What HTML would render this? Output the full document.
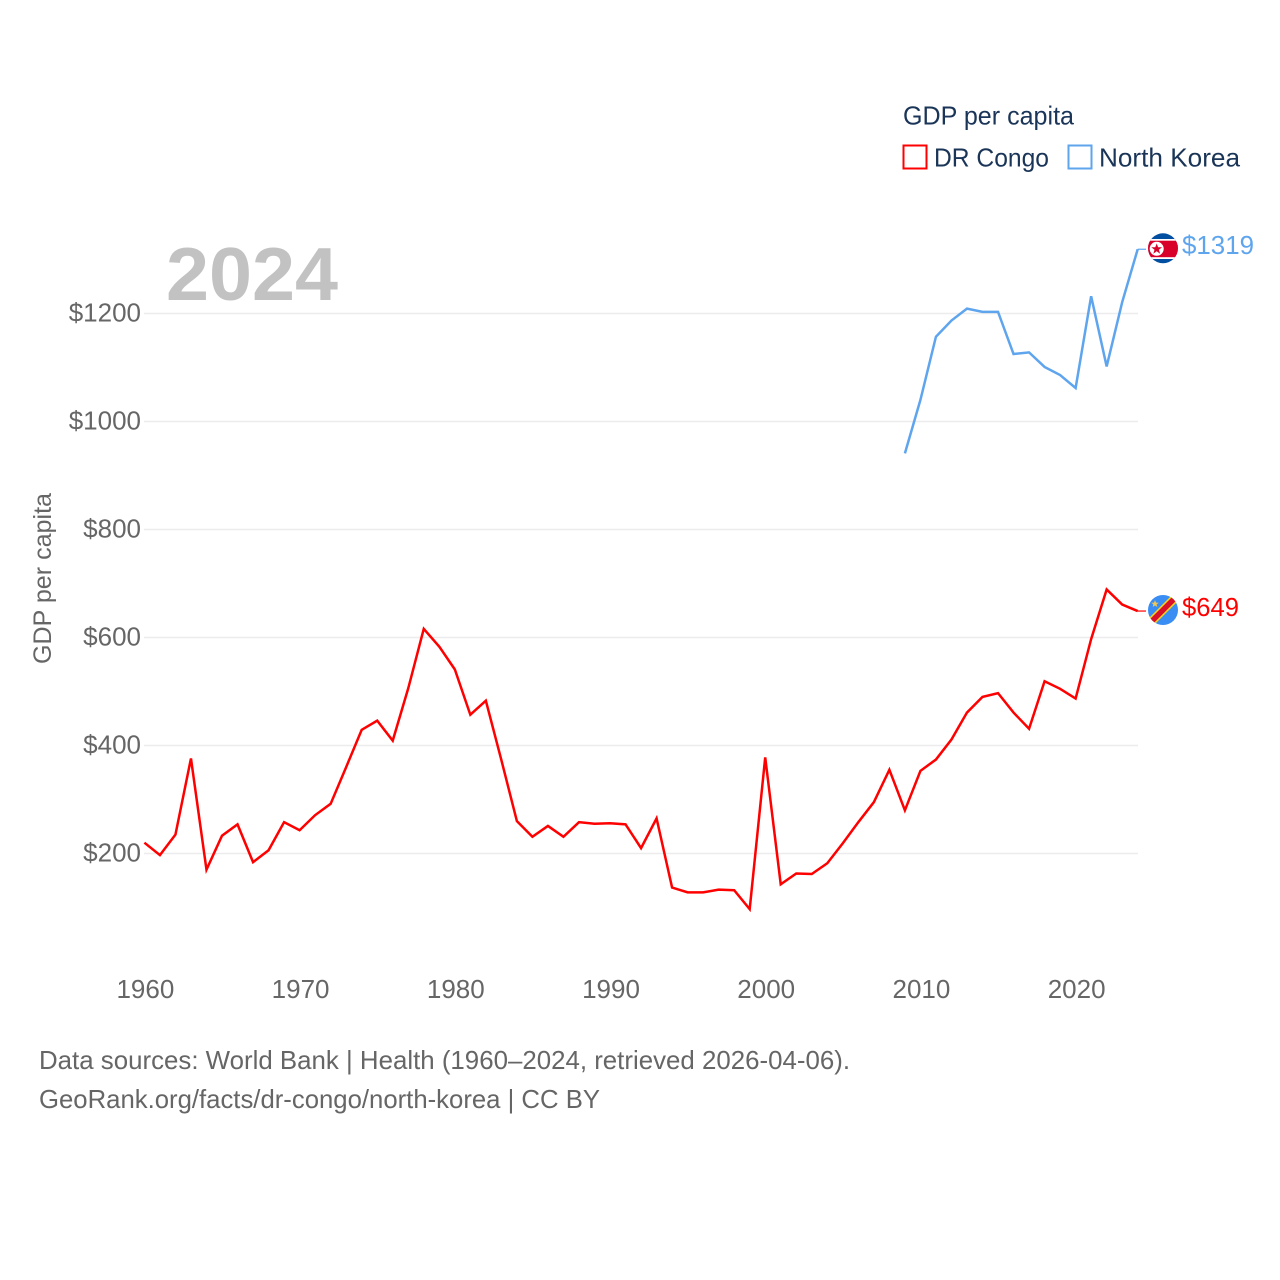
<!DOCTYPE html>
<html lang="en">
<head>
<meta charset="utf-8">
<title>GDP per capita: DR Congo and North Korea</title>
<style>
html,body{margin:0;padding:0;background:#fff;}
svg{display:block;font-family:"Liberation Sans",sans-serif;}
</style>
</head>
<body>
<svg id="chart" xmlns="http://www.w3.org/2000/svg" width="1280" height="1280" viewBox="0 0 1280 1280">
  <rect width="1280" height="1280" fill="#fff"/>
  <g id="grid"></g>
  <g id="yticks"></g>
  <g id="xticks"></g>
  <text x="166" y="300" font-size="75" font-weight="700" fill="#c2c2c2" textLength="172" lengthAdjust="spacingAndGlyphs">2024</text>
  <text transform="translate(51,664) rotate(-90)" font-size="25" fill="#666" textLength="171" lengthAdjust="spacingAndGlyphs">GDP per capita</text>
  <g id="series"></g>

  <g>
    <text x="903" y="124.500" font-size="26" fill="#1a3557" textLength="171" lengthAdjust="spacingAndGlyphs">GDP per capita</text>
    <rect x="903.5" y="145.5" width="23" height="23" fill="none" stroke="#ff0000" stroke-width="2"/>
    <text x="934" y="166.500" font-size="26" fill="#1a3557" textLength="115" lengthAdjust="spacingAndGlyphs">DR Congo</text>
    <rect x="1068.5" y="145.5" width="23" height="23" fill="none" stroke="#5ea5ee" stroke-width="2"/>
    <text x="1099" y="166.500" font-size="26" fill="#1a3557" textLength="141" lengthAdjust="spacingAndGlyphs">North Korea</text>
  </g>

  <defs>
    <clipPath id="clip-nk"><circle cx="1163" cy="248.3" r="15"/></clipPath>
    <clipPath id="clip-cd"><circle cx="1163" cy="610" r="15"/></clipPath>
  </defs>
  <g clip-path="url(#clip-nk)">
    <rect x="1148" y="233" width="30" height="31" fill="#024fa2"/>
    <rect x="1148" y="239" width="30" height="20" fill="#fff"/>
    <rect x="1148" y="240.700" width="30" height="16.500" fill="#d8002b"/>
    <circle cx="1156.700" cy="248.800" r="7" fill="#fff"/>
    <polygon points="1156.700,243.500 1158.100,247.300 1162.100,247.300 1158.900,249.800 1160.100,253.700 1156.700,251.300 1153.300,253.700 1154.500,249.800 1151.300,247.300 1155.300,247.300" fill="#d8002b"/>
  </g>
  <g clip-path="url(#clip-cd)">
    <rect x="1148" y="595" width="30" height="30" fill="#3a8df2"/>
    <line x1="1146" y1="627" x2="1180" y2="593" stroke="#f7d618" stroke-width="8.500"/>
    <line x1="1146" y1="627" x2="1180" y2="593" stroke="#d8102a" stroke-width="5.500"/>
    <polygon points="1155,600 1156,602.600 1158.800,602.700 1156.600,604.400 1157.400,607 1155,605.500 1152.600,607 1153.400,604.400 1151.200,602.700 1154,602.600" fill="#f0c75a"/>
  </g>
  <text x="1182" y="254" font-size="26" fill="#5ea5ee" textLength="72" lengthAdjust="spacingAndGlyphs">$1319</text>
  <text x="1182" y="616" font-size="26" fill="#ff0000" textLength="57" lengthAdjust="spacingAndGlyphs">$649</text>

  <text x="39" y="1069" font-size="26" fill="#666" textLength="811" lengthAdjust="spacingAndGlyphs">Data sources: World Bank | Health (1960–2024, retrieved 2026-04-06).</text>
  <text x="39" y="1108" font-size="26" fill="#666" textLength="561" lengthAdjust="spacingAndGlyphs">GeoRank.org/facts/dr-congo/north-korea | CC BY</text>
</svg>
<script>
const drCongoStartYear = 1960;
const drCongoValues = [220,197,235,376,170,233,254,184,206,258,243,271,292,360,429,446,409,506,616,583,541,457,483,373,260,231,251,231,258,255,256,254,210,265,137,128,128,133,132,97,378,143,163,162,182,219,258,295,355,280,353,374,411,461,490,497,461,431,519,505,487,597,689,661,649];
const northKoreaStartYear = 2009;
const northKoreaValues = [941,1040,1157,1187,1209,1203,1203,1125,1128,1101,1086,1062,1232,1102,1221,1319];
const yTicks = [200,400,600,800,1000,1200];
const xTicks = [1960,1970,1980,1990,2000,2010,2020];

const NS = 'http://www.w3.org/2000/svg';
const xScale = function (year) { return 144.4 + (year - 1960) * (1137.7 - 144.4) / 64; };
const yScale = function (value) { return 961.5 - value * 0.54; };

function make(parent, tag, attrs, content) {
  const el = document.createElementNS(NS, tag);
  Object.keys(attrs).forEach(function (k) { el.setAttribute(k, attrs[k]); });
  if (content !== undefined) el.textContent = content;
  parent.appendChild(el);
  return el;
}

const gridG = document.getElementById('grid');
const yG = document.getElementById('yticks');
yTicks.forEach(function (t) {
  const line = make(gridG, 'line', {x1: 144, x2: 1138, y1: yScale(t), y2: yScale(t), stroke: '#ececec', 'stroke-width': 1.5});
  
  
  const label = make(yG, 'text', {x: 141, y: yScale(t) + 8, 'text-anchor': 'end', 'font-size': 26, fill: '#666'}, '$' + t);
  
  
});

const xG = document.getElementById('xticks');
xTicks.forEach(function (t) {
  const label = make(xG, 'text', {x: xScale(t) + 1, y: 998, 'text-anchor': 'middle', 'font-size': 26, fill: '#666'}, String(t));
  
  
});

function pathFor(startYear, values) {
  return values.map(function (v, i) {
    return (i ? 'L' : 'M') + xScale(startYear + i).toFixed(2) + ' ' + yScale(v).toFixed(2);
  }).join(' ');
}

const seriesG = document.getElementById('series');
const lastDr = drCongoValues[drCongoValues.length - 1];
const lastNk = northKoreaValues[northKoreaValues.length - 1];

const drLine = make(seriesG, 'path', {d: pathFor(drCongoStartYear, drCongoValues), fill: 'none', stroke: '#ff0000', 'stroke-width': 2.5, 'stroke-linejoin': 'miter'});



const nkLine = make(seriesG, 'path', {d: pathFor(northKoreaStartYear, northKoreaValues), fill: 'none', stroke: '#5ea5ee', 'stroke-width': 2.5, 'stroke-linejoin': 'miter'});



const drLead = make(seriesG, 'line', {x1: xScale(2024), x2: 1146, y1: yScale(lastDr), y2: yScale(lastDr), stroke: '#ff0000', 'stroke-width': 1.2});



const nkLead = make(seriesG, 'line', {x1: xScale(2024), x2: 1146, y1: yScale(lastNk), y2: yScale(lastNk), stroke: '#5ea5ee', 'stroke-width': 1.2});


</script>
</body>
</html>
